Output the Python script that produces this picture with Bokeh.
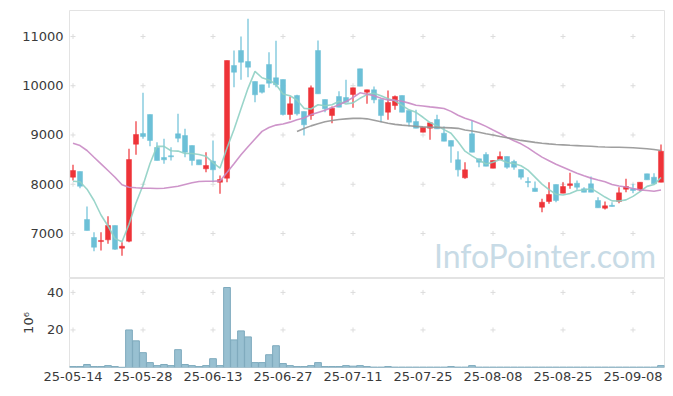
import numpy as np
import pandas as pd
from bokeh.plotting import figure
from bokeh.layouts import column
from bokeh.models import Range1d, FixedTicker, Label, ColumnDataSource
from bokeh.embed import file_html
from bokeh.resources import INLINE

# ---------------- data ----------------
tick_idx = [0, 10, 20, 30, 40, 50, 60, 70, 80]
tick_labels = ["25-05-14", "25-05-28", "25-06-13", "25-06-27", "25-07-11",
               "25-07-25", "25-08-08", "25-08-25", "25-09-08"]
price_ticks = [7000, 8000, 9000, 10000, 11000]
vol_ticks = [20, 40]

opens = [8143, 8259, 7284, 6919, 6838, 6872, 7162, 6702, 6844, 8813,
         9030, 9416, 8746, 8543, 8573, 9024, 8989, 8786, 8496, 8313,
         8468, 8041, 8123, 10410, 10715, 10492, 10086, 10018, 10431, 10161,
         10126, 9416, 9801, 9477, 9395, 10715, 9720, 9395, 9781, 9761,
         9822, 10343, 9868, 9917, 9720, 9462, 9598, 9801, 9497, 9274,
         9056, 9138, 9314, 9036, 8888, 8496, 8131, 9024, 8516, 8604,
         8325, 8496, 8563, 8462, 8299, 8056, 7920, 7534, 7650, 7995,
         7818, 7974, 8021, 7907, 8009, 7670, 7514, 7568, 7650, 7899,
         7907, 7887, 8212, 8143, 8041]
highs = [8395, 8259, 7548, 7026, 7026, 7351, 7162, 6823, 8719, 9280,
         9856, 9416, 8853, 8922, 8752, 9430, 9125, 8786, 8496, 8650,
         8888, 8177, 10512, 10715, 11000, 11358, 10086, 10018, 10680, 10913,
         10126, 9781, 9815, 9477, 10004, 10918, 9720, 9578, 9889, 10120,
         9958, 10343, 9917, 9984, 9720, 9903, 9801, 9801, 9497, 9511,
         9158, 9259, 9410, 9172, 8888, 8671, 8447, 9294, 8516, 8650,
         8482, 8665, 8563, 8496, 8299, 8143, 8056, 7704, 8041, 7995,
         8041, 8232, 8076, 7940, 8157, 7737, 7650, 7635, 7940, 8110,
         8009, 8041, 8212, 8224, 8807]
lows = [8076, 7920, 7061, 6641, 6655, 6791, 6669, 6547, 6823, 8598,
        8922, 8772, 8482, 8415, 8482, 8853, 8549, 8380, 8395, 8244,
        8041, 7806, 8041, 9970, 10120, 10173, 9665, 9842, 9958, 9970,
        9395, 9308, 9395, 8989, 9308, 9836, 9462, 9239, 9564, 9665,
        9552, 9990, 9633, 9645, 9259, 9308, 9511, 9462, 9172, 9138,
        9056, 8902, 9125, 8874, 8435, 8157, 8110, 8650, 8346, 8366,
        8325, 8496, 8313, 8293, 8096, 7940, 7853, 7432, 7603, 7635,
        7818, 7907, 7887, 7838, 7838, 7522, 7487, 7548, 7615, 7838,
        7818, 7859, 8090, 8009, 8041]
closes = [8279, 7960, 7061, 6722, 6858, 7162, 6681, 6742, 8502, 9010,
          8969, 8888, 8482, 8496, 8563, 8935, 8650, 8482, 8395, 8380,
          8293, 8096, 10512, 10274, 10477, 10376, 9816, 9868, 10051, 10019,
          9416, 9633, 9430, 9207, 9958, 9836, 9531, 9544, 9564, 9665,
          9958, 9990, 9917, 9714, 9395, 9659, 9781, 9462, 9259, 9138,
          9158, 9247, 9125, 8874, 8772, 8293, 8293, 8650, 8447, 8366,
          8482, 8563, 8346, 8346, 8143, 8035, 7853, 7635, 7792, 7670,
          7954, 8009, 7940, 7838, 7838, 7522, 7562, 7554, 7826, 7954,
          7873, 8041, 8090, 8009, 8671]
volumes = [0.5, 0.5, 1.6, 0.5, 0.5, 1.0, 0.5, 0.1, 20.0, 14.2,
           7.9, 2.6, 1.0, 1.6, 1.0, 9.5, 1.6, 1.0, 0.5, 1.0,
           4.7, 1.0, 42.6, 14.7, 19.5, 16.3, 2.6, 2.6, 6.8, 11.6,
           2.1, 1.0, 0.5, 0.5, 1.0, 2.6, 0.5, 0.5, 0.5, 1.0,
           0.7, 1.0, 0.5, 0.2, 0.2, 0.5, 0.2, 0.2, 0.2, 0.2,
           0.2, 0.2, 0.2, 0.2, 0.5, 0.2, 0.2, 1.0, 0.2, 0.2,
           0.2, 0.2, 0.2, 0.2, 0.2, 0.2, 0.2, 0.2, 0.2, 0.2,
           0.2, 0.2, 0.2, 0.2, 0.2, 0.2, 0.2, 0.2, 0.2, 0.2,
           0.2, 0.2, 0.2, 0.2, 1.0]
# moving-average values read where history before the window is not shown
ma5_head = [8062, 8050, 7900, 7670]
ma20_head = [8833, 8786, 8685, 8549, 8415, 8279, 8143, 7989, 7940, 7928,
             7920, 7920, 7913, 7920, 7940, 7960, 7995, 8029, 8056]
ma60_start = 32
ma60 = [9071, 9130, 9185, 9230, 9268, 9295, 9315, 9328, 9337, 9341,
        9328, 9300, 9270, 9240, 9215, 9200, 9188, 9175, 9165, 9158,
        9155, 9150, 9145, 9135, 9100, 9080, 9055, 9024, 9000, 8970,
        8945, 8920, 8890, 8870, 8850, 8833, 8820, 8808, 8800, 8792,
        8785, 8778, 8770, 8762, 8755, 8752, 8750, 8745, 8740, 8732,
        8722, 8705, 8685]

# ---------------- derived ----------------
n = len(closes)
xs = np.arange(n)
o = np.array(opens, float); c = np.array(closes, float)
h = np.array(highs, float); l = np.array(lows, float)
up = c > o
RED = "#ee3338"
BLUE = "#6cc0d7"
colors = [RED if u else BLUE for u in up]
btop = np.maximum(o, c); bbot = np.minimum(o, c)
mid = (btop + bbot) / 2
small = (btop - bbot) < 22
btop = np.where(small, mid + 11, btop)
bbot = np.where(small, mid - 11, bbot)

cs = pd.Series(c)
ma5v = cs.rolling(5).mean().to_numpy()
ma5v[:len(ma5_head)] = ma5_head
ma20v = cs.rolling(20).mean().to_numpy()
ma20v[:len(ma20_head)] = ma20_head
ma60x = np.arange(ma60_start, ma60_start + len(ma60))

src = ColumnDataSource(dict(x=xs, h=h, l=l, top=btop, bot=bbot, col=colors))

FONT = "DejaVu Sans"
TXT = "#3a3a3a"
GRIDC = "#dcdcdc"
OUTL = "#e3e3e3"

x_range = Range1d(-0.5, n - 0.5)

def style(fig):
    fig.grid.visible = False
    fig.outline_line_color = OUTL
    fig.outline_line_width = 1
    fig.background_fill_color = "white"
    fig.border_fill_color = "white"
    for ax in fig.axis:
        ax.axis_line_color = None
        ax.major_tick_line_color = None
        ax.minor_tick_line_color = None
        ax.major_tick_in = 0
        ax.major_tick_out = 0
        ax.major_label_text_font = FONT
        ax.major_label_text_font_size = "13px"
        ax.major_label_text_color = TXT

# ---------------- price figure ----------------
p = figure(frame_width=595, frame_height=268, x_range=x_range,
           y_range=Range1d(6087, 11527), output_backend="svg",
           toolbar_location=None, min_border_left=69, min_border_right=4,
           min_border_top=10, min_border_bottom=0)
style(p)
p.xaxis.visible = False
p.yaxis.ticker = FixedTicker(ticks=price_ticks)
p.yaxis.major_label_overrides = {t: str(t) for t in price_ticks}
p.yaxis.major_label_standoff = 6

# grid crosses
gx, gy = np.meshgrid(tick_idx, price_ticks)
p.scatter(gx.ravel(), gy.ravel(), marker="cross", size=5, line_color=GRIDC, line_width=1)

p.add_layout(Label(x=83.3, y=6560, text="InfoPointer.com", text_align="right",
                   text_baseline="middle", text_font="Lato",
                   text_font_size="32px", text_color="#c8dbe6"))

p.segment(x0="x", y0="h", x1="x", y1="l", source=src, line_color="col", line_width=1.2)
p.vbar(x="x", top="top", bottom="bot", width=0.72, source=src,
       fill_color="col", line_color="col", line_width=0.5)

p.line(xs, ma5v, line_color="#8fd0c4", line_width=1.6, line_alpha=0.9)
p.line(xs, ma20v, line_color="#c98ac4", line_width=1.6, line_alpha=0.9)
p.line(ma60x, ma60, line_color="#959595", line_width=1.6, line_alpha=0.9)

# ---------------- volume figure ----------------
v = figure(frame_width=595, frame_height=89, x_range=x_range,
           y_range=Range1d(0, 47.4), output_backend="svg",
           toolbar_location=None, min_border_left=69, min_border_right=4,
           min_border_top=0, min_border_bottom=2)
style(v)
v.yaxis.ticker = FixedTicker(ticks=vol_ticks)
v.yaxis.major_label_overrides = {t: str(t) for t in vol_ticks}
v.yaxis.major_label_standoff = 6
v.yaxis.axis_label = "10\u2076"
v.yaxis.axis_label_text_font = FONT
v.yaxis.axis_label_text_font_size = "13px"
v.yaxis.axis_label_text_font_style = "normal"
v.yaxis.axis_label_text_color = TXT
v.yaxis.axis_label_standoff = 8
v.xaxis.ticker = FixedTicker(ticks=tick_idx)
v.xaxis.major_label_overrides = {t: lab for t, lab in zip(tick_idx, tick_labels)}
v.xaxis.major_label_standoff = 4

vx, vy = np.meshgrid(tick_idx, vol_ticks)
v.scatter(vx.ravel(), vy.ravel(), marker="cross", size=5, line_color=GRIDC, line_width=1)
v.vbar(x=xs, top=volumes, bottom=0, width=0.96, fill_color="#98c0d1",
       line_color="#7eaabd", line_width=1)

layout = column(p, v, spacing=0)
open("out.html", "w").write(file_html(layout, INLINE))
